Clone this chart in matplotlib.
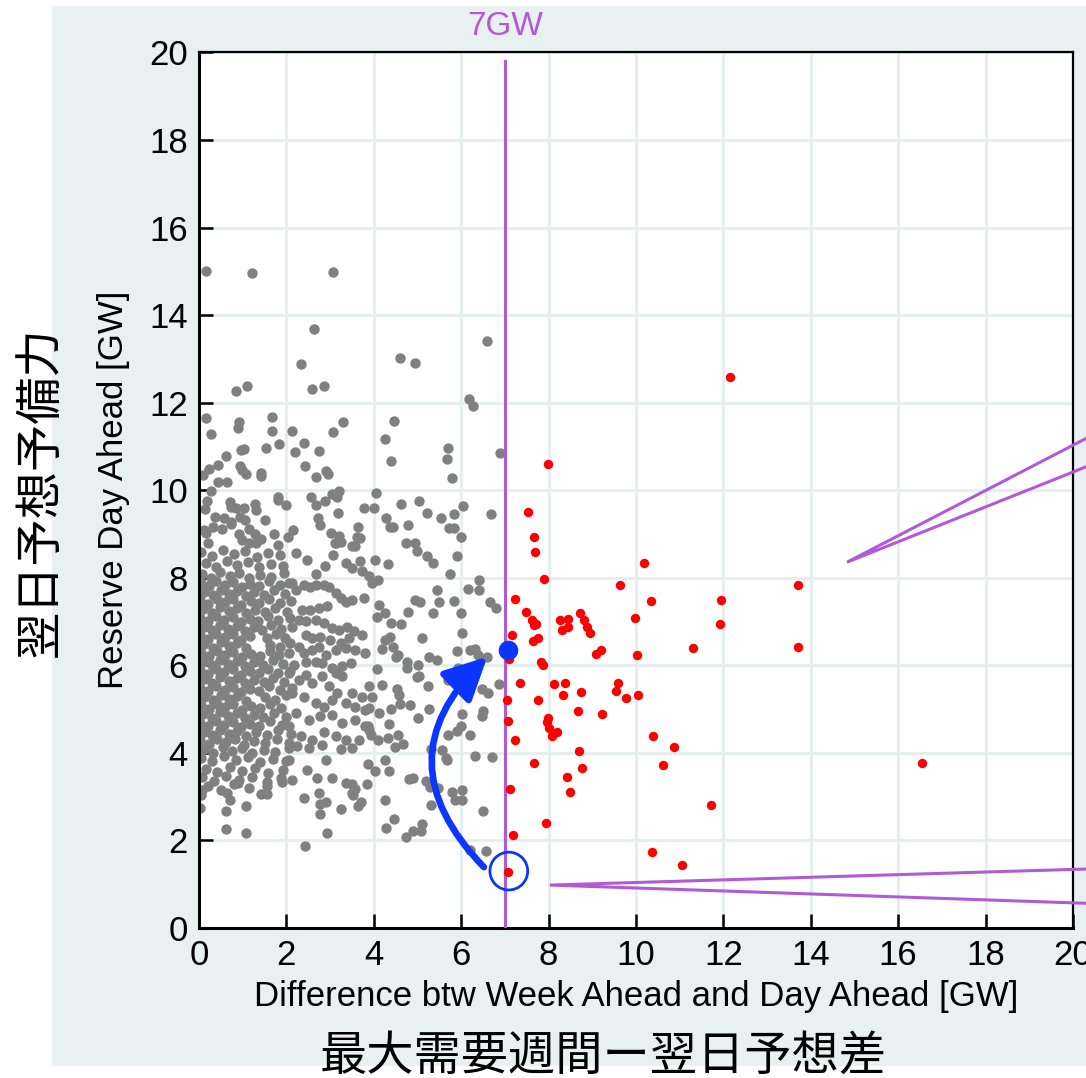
import matplotlib
matplotlib.use("Agg")
import matplotlib.pyplot as plt
import numpy as np
from matplotlib.patches import Rectangle, FancyArrowPatch

plt.rcParams['font.family'] = ['Liberation Sans', 'Noto Sans CJK JP', 'DejaVu Sans']

# ---- data (GW) ----
# sparse grey points above the main cloud
gray_upper = [
    (0.15, 15.0), (1.21, 14.95), (3.07, 14.99), (2.64, 13.69), (6.59, 13.40), (2.33, 12.87),
    (4.59, 13.02), (4.94, 12.91), (0.84, 12.26), (1.09, 12.38), (2.59, 12.30), (2.87, 12.37),
    (6.17, 12.07), (6.27, 11.92), (0.17, 11.64), (0.92, 11.55), (0.89, 11.41), (1.67, 11.66),
    (1.68, 11.35), (0.27, 11.27), (2.14, 11.35), (3.07, 11.32), (3.30, 11.55), (4.47, 11.58),
    (4.25, 11.17), (4.40, 10.66), (5.71, 10.97), (5.67, 10.70), (5.80, 10.27), (6.90, 10.84),
    (1.54, 10.97), (1.84, 11.06), (0.96, 10.91), (1.03, 10.94), (0.63, 10.78), (0.44, 10.57),
    (0.24, 10.47), (0.10, 10.34), (0.95, 10.55), (0.99, 10.46), (1.08, 10.37), (0.43, 10.18),
    (0.64, 10.18), (1.41, 10.40), (1.43, 10.33), (2.19, 10.86), (2.40, 11.07), (2.75, 10.89),
    (2.43, 10.55), (2.68, 10.30), (2.91, 10.43), (2.96, 10.36),
    (0.28, 9.98), (0.19, 9.75), (0.13, 9.56), (0.70, 9.72), (0.74, 9.62), (0.84, 9.58),
    (1.03, 9.60), (1.28, 9.69), (1.30, 9.54), (1.80, 9.83), (1.81, 9.77), (2.00, 9.66),
    (1.51, 9.31), (0.36, 9.39), (0.57, 9.37), (0.32, 9.16), (0.53, 9.10), (0.94, 9.39),
    (1.05, 9.32), (0.73, 9.28), (0.73, 9.22), (1.14, 9.12), (0.92, 8.99), (0.99, 8.86),
    (1.28, 8.99), (1.41, 8.89), (1.14, 8.78), (1.30, 8.78), (0.11, 9.09), (0.15, 9.01),
    (0.21, 8.78), (1.72, 8.99), (1.81, 8.74), (2.04, 8.93), (2.16, 9.09), (2.57, 9.83),
    (2.68, 9.66), (2.89, 9.74), (3.04, 9.90), (3.17, 9.85), (3.20, 9.98), (2.72, 9.37),
    (2.77, 9.19), (3.18, 9.47), (3.02, 9.01), (3.20, 8.95), (3.24, 8.81), (3.11, 8.78),
    (3.65, 9.16), (3.61, 8.93), (3.68, 8.90), (3.51, 8.73), (3.78, 9.60), (4.01, 9.60),
    (4.06, 9.94), (4.29, 9.37), (4.38, 9.15), (4.44, 9.15), (4.63, 9.69), (4.79, 9.21),
    (4.74, 8.79), (4.94, 8.78), (5.03, 9.76), (5.22, 9.47), (5.53, 9.35), (5.84, 9.45),
    (6.05, 9.63), (5.72, 9.13), (5.84, 9.13), (5.99, 8.93), (6.69, 9.45),
]

# dense core of the cloud (x < ~2.2)
gray_core = [
    (0.05, 8.58), (0.30, 8.50), (0.55, 8.62), (0.80, 8.53), (1.05, 8.60), (1.32, 8.48), (1.58, 8.56), (1.86, 8.51),
    (0.15, 8.33), (0.40, 8.25), (0.64, 8.37), (0.88, 8.28), (1.12, 8.35), (1.38, 8.23), (1.64, 8.31), (1.92, 8.26),
    (0.06, 8.08), (0.27, 8.00), (0.48, 8.12), (0.70, 8.03), (0.92, 8.10), (1.15, 7.98), (1.40, 8.06), (1.66, 8.01), (1.95, 8.11),
    (0.04, 7.88), (0.22, 7.80), (0.40, 7.92), (0.60, 7.83), (0.78, 7.90), (0.98, 7.78), (1.17, 7.86), (1.38, 7.81), (1.60, 7.91), (1.85, 7.82), (2.12, 7.87),
    (0.12, 7.68), (0.31, 7.60), (0.50, 7.72), (0.69, 7.63), (0.88, 7.70), (1.07, 7.58), (1.27, 7.66), (1.48, 7.61), (1.72, 7.71), (1.98, 7.62),
    (0.03, 7.48), (0.21, 7.40), (0.41, 7.52), (0.59, 7.43), (0.79, 7.50), (0.97, 7.38), (1.18, 7.46), (1.38, 7.41), (1.60, 7.51), (1.85, 7.42), (2.10, 7.47),
    (0.10, 7.28), (0.30, 7.20), (0.48, 7.32), (0.68, 7.23), (0.87, 7.30), (1.08, 7.18), (1.28, 7.26), (1.50, 7.21), (1.75, 7.31), (2.02, 7.22),
    (0.02, 7.08), (0.20, 7.00), (0.40, 7.12), (0.58, 7.03), (0.77, 7.10), (0.96, 6.98), (1.16, 7.06), (1.36, 7.01), (1.58, 7.11), (1.82, 7.02), (2.08, 7.07),
    (0.11, 6.88), (0.29, 6.80), (0.49, 6.92), (0.67, 6.83), (0.86, 6.90), (1.05, 6.78), (1.25, 6.86), (1.45, 6.81), (1.66, 6.91), (1.88, 6.82), (2.12, 6.87),
    (0.03, 6.68), (0.21, 6.60), (0.40, 6.72), (0.60, 6.63), (0.78, 6.70), (0.97, 6.58), (1.17, 6.66), (1.56, 6.61), (1.77, 6.71), (1.98, 6.62),
    (0.12, 6.48), (0.31, 6.40), (0.50, 6.52), (0.69, 6.43), (0.88, 6.50), (1.07, 6.38), (1.62, 6.46), (1.85, 6.41), (2.08, 6.51),
    (0.04, 6.28), (0.22, 6.20), (0.41, 6.32), (0.60, 6.23), (0.79, 6.30), (0.98, 6.18), (1.18, 6.26), (1.40, 6.21), (1.62, 6.31), (1.84, 6.22), (2.05, 6.27),
    (0.10, 6.08), (0.29, 6.00), (0.48, 6.12), (0.67, 6.03), (0.86, 6.10), (1.06, 5.98), (1.26, 6.06), (1.47, 6.01), (1.70, 6.11), (1.93, 6.02),
    (0.02, 5.88), (0.20, 5.80), (0.39, 5.92), (0.58, 5.83), (0.77, 5.90), (0.96, 5.78), (1.16, 5.86), (1.37, 5.81), (1.58, 5.91), (1.82, 5.82), (2.08, 5.87),
    (0.11, 5.68), (0.30, 5.60), (0.49, 5.72), (0.68, 5.63), (0.87, 5.70), (1.06, 5.58), (1.26, 5.66), (1.48, 5.61), (1.70, 5.71), (1.95, 5.62),
    (0.03, 5.48), (0.21, 5.40), (0.40, 5.52), (0.59, 5.43), (0.78, 5.50), (0.97, 5.38), (1.17, 5.46), (1.38, 5.41), (1.60, 5.51), (1.85, 5.42), (2.12, 5.47),
    (0.12, 5.28), (0.31, 5.20), (0.50, 5.32), (0.69, 5.23), (0.88, 5.30), (1.07, 5.18), (1.50, 5.26), (1.73, 5.21), (2.00, 5.31),
    (0.04, 5.08), (0.22, 5.00), (0.41, 5.12), (0.60, 5.03), (0.79, 5.10), (0.98, 4.98), (1.18, 5.06), (1.40, 5.01), (1.62, 5.11), (1.87, 5.02),
    (0.10, 4.88), (0.29, 4.80), (0.48, 4.92), (0.67, 4.83), (0.86, 4.90), (1.05, 4.78), (1.25, 4.86), (1.47, 4.81), (1.72, 4.91), (2.00, 4.82),
    (0.02, 4.68), (0.20, 4.60), (0.39, 4.72), (0.58, 4.63), (0.77, 4.70), (0.96, 4.58), (1.16, 4.66), (1.38, 4.61), (1.62, 4.71), (1.90, 4.62),
    (0.11, 4.48), (0.30, 4.40), (0.49, 4.52), (0.68, 4.43), (0.88, 4.50), (1.08, 4.38), (1.30, 4.46), (1.55, 4.41), (1.82, 4.51), (2.10, 4.42),
    (0.03, 4.28), (0.22, 4.20), (0.42, 4.32), (0.62, 4.23), (0.82, 4.30), (1.03, 4.18), (1.25, 4.26), (1.50, 4.21), (1.78, 4.31), (2.05, 4.22),
    (0.12, 4.08), (0.33, 4.00), (0.55, 4.12), (0.76, 4.03), (0.98, 4.10), (1.22, 3.98), (1.48, 4.06), (1.75, 4.01), (2.05, 4.11),
    (0.05, 3.88), (0.30, 3.80), (0.58, 3.92), (0.85, 3.83), (1.12, 3.90), (1.40, 3.78), (1.70, 3.86), (2.00, 3.81),
    (0.15, 3.63), (0.42, 3.55), (0.70, 3.67), (0.98, 3.58), (1.28, 3.65), (1.58, 3.53), (1.92, 3.61),
    (0.06, 3.43), (0.35, 3.35), (0.62, 3.47), (0.92, 3.38), (1.22, 3.45), (1.55, 3.33), (1.88, 3.41),
    (0.20, 3.23), (0.50, 3.15), (0.80, 3.27), (1.15, 3.18),
]

# medium-density band (x ~2.2 - 3.9)
gray_mid = [
    (2.23, 8.57), (2.48, 8.40), (2.67, 8.08), (2.88, 8.27), (3.07, 8.52), (3.13, 8.80), (3.36, 8.34),
    (3.51, 8.21), (3.57, 8.71), (3.68, 8.38), (3.74, 8.16),
    (2.06, 7.87), (2.21, 7.72), (2.40, 7.83), (2.55, 7.79), (2.67, 7.83), (2.86, 7.83), (2.97, 7.79),
    (3.13, 7.64), (3.24, 7.53), (3.36, 7.45), (3.51, 7.49), (3.78, 7.53), (2.36, 7.26), (2.55, 7.26),
    (2.75, 7.30), (2.94, 7.34), (2.29, 7.03), (2.44, 7.00), (2.67, 7.03), (2.86, 6.96), (3.05, 6.84),
    (3.20, 6.81), (3.39, 6.88), (3.43, 6.61), (3.55, 6.77), (3.74, 6.69), (2.44, 6.69), (2.59, 6.61),
    (2.78, 6.65), (3.01, 6.58), (3.24, 6.50), (2.29, 6.42), (2.40, 6.27), (2.59, 6.35), (2.75, 6.42),
    (2.90, 6.23), (3.13, 6.35), (3.36, 6.39), (3.58, 6.35), (3.81, 6.27), (2.17, 6.01), (2.44, 6.08),
    (2.67, 6.08), (2.82, 6.04), (3.05, 5.93), (3.28, 5.97), (3.47, 6.04),
    (2.06, 5.82), (2.29, 5.66), (2.44, 5.78), (2.59, 5.59), (2.82, 5.74), (3.13, 5.82), (3.28, 5.74),
    (2.97, 5.51), (3.16, 5.36), (3.51, 5.36), (3.74, 5.28), (2.14, 5.36), (2.40, 5.28), (2.67, 5.13),
    (2.86, 5.05), (3.05, 5.21), (3.36, 5.13), (3.58, 5.05), (3.81, 4.98), (2.21, 4.90), (2.52, 4.75),
    (2.78, 4.83), (3.05, 4.86), (3.28, 4.67), (3.58, 4.75), (3.81, 4.60), (2.06, 4.60), (2.33, 4.37),
    (2.59, 4.29), (2.86, 4.48), (3.13, 4.37), (3.36, 4.29), (3.66, 4.29), (3.89, 4.52), (2.25, 4.14),
    (2.52, 4.10), (2.82, 4.18), (3.24, 4.07), (3.51, 4.10),
    (2.06, 3.84), (2.48, 3.61), (2.71, 3.42), (2.90, 3.84), (3.05, 3.42), (3.51, 3.08), (2.75, 3.08),
]

# sparse grey points right of x ~3.8, below y ~9
gray_right = [
    (4.98, 8.61), (5.22, 8.50), (5.36, 8.33), (5.91, 8.50), (4.32, 8.30), (4.02, 8.39), (3.95, 7.87),
    (4.10, 7.95), (3.89, 8.04), (5.75, 8.07), (6.40, 7.95), (6.16, 7.74), (6.41, 7.71), (5.44, 7.72),
    (4.94, 7.49), (5.06, 7.45), (5.49, 7.43), (5.84, 7.46), (6.67, 7.43), (6.79, 7.30), (4.12, 7.37),
    (4.25, 7.18), (4.07, 7.09), (4.39, 6.96), (4.63, 6.94), (4.78, 7.22), (5.35, 7.19), (5.99, 7.19),
    (6.03, 6.74), (5.11, 6.61), (4.25, 6.58), (4.37, 6.65), (4.19, 6.37), (4.45, 6.42), (4.56, 6.23),
    (4.50, 6.18), (4.77, 6.06), (5.26, 6.18), (5.45, 6.12), (5.91, 6.32), (6.20, 6.35), (6.32, 6.36),
    (6.38, 6.22), (6.59, 6.19), (4.75, 5.94), (5.02, 6.00), (5.03, 5.75), (5.00, 5.72), (5.24, 5.53),
    (5.93, 5.93), (5.70, 5.66), (6.12, 5.59), (6.48, 5.45), (6.62, 5.37), (6.87, 5.57), (4.08, 5.91),
    (4.20, 5.54), (4.54, 5.45), (4.58, 5.31), (4.60, 5.11), (4.39, 4.99), (4.13, 4.90), (3.89, 5.01),
    (3.95, 5.28), (3.89, 5.51), (4.84, 5.09), (5.02, 4.78), (5.26, 4.99), (6.03, 4.89), (6.51, 4.96),
    (6.48, 4.84), (5.99, 4.60), (5.90, 4.50), (5.70, 4.41), (6.20, 4.39), (4.36, 4.66), (3.87, 4.60),
    (3.93, 4.41), (4.10, 4.29), (4.33, 4.33), (4.55, 4.41), (4.68, 4.20), (4.48, 4.13), (5.32, 4.08),
    (5.57, 4.06), (5.65, 3.87), (5.68, 3.82), (6.31, 3.91), (6.71, 3.89), (4.26, 3.82), (4.35, 3.57),
    (3.87, 3.74), (4.03, 3.57), (4.81, 3.40), (4.90, 3.42), (5.19, 3.36), (5.28, 3.22), (5.48, 3.19),
    (5.80, 3.10), (6.03, 3.15), (5.30, 2.79), (5.85, 2.91), (6.01, 2.92), (6.51, 2.67), (4.26, 2.92),
    (4.46, 2.48), (4.27, 2.28), (4.90, 2.20), (5.11, 2.37), (5.09, 2.21), (4.74, 2.07), (6.20, 1.78),
    (6.57, 1.76),
]

# sparse grey points at the bottom left
gray_low = [
    (2.43, 1.87), (2.93, 2.16), (3.26, 2.72), (2.78, 2.60), (2.77, 2.82), (2.91, 2.86), (3.65, 2.77),
    (3.71, 2.86), (3.53, 3.04), (2.40, 2.97), (1.56, 3.06), (1.41, 3.06), (1.56, 3.23), (1.08, 2.77),
    (0.62, 2.66), (0.71, 2.92), (0.65, 3.07), (0.62, 2.26), (1.08, 2.16), (0.02, 2.73), (0.04, 3.04),
    (0.08, 3.15), (3.36, 3.30), (3.51, 3.29), (3.56, 3.17), (3.85, 3.29), (1.91, 3.33), (2.14, 3.38),
    (0.90, 3.30),
]

# red points: difference above 7 GW
red_pts = [
    (12.16, 12.58), (7.99, 10.59), (7.54, 9.50), (7.67, 8.93), (7.70, 8.59), (10.18, 8.33), (7.89, 7.96),
    (9.63, 7.82), (13.71, 7.84), (7.23, 7.51), (10.34, 7.46), (11.94, 7.49), (7.48, 7.21), (7.61, 7.03),
    (7.67, 6.91), (7.72, 6.93), (8.27, 7.03), (8.44, 7.05), (8.30, 6.80), (8.44, 6.88), (8.72, 7.18),
    (8.80, 7.03), (8.89, 6.86), (8.95, 6.73), (9.97, 7.08), (11.93, 6.93), (7.16, 6.69), (7.64, 6.55),
    (7.76, 6.61), (9.09, 6.25), (9.21, 6.35), (10.03, 6.22), (11.31, 6.40), (13.70, 6.42), (7.09, 6.14),
    (7.83, 6.08), (7.87, 6.00), (7.35, 5.58), (8.13, 5.56), (8.37, 5.60), (9.59, 5.59), (9.54, 5.40),
    (9.78, 5.24), (10.05, 5.32), (8.75, 5.39), (8.32, 5.31), (7.06, 5.20), (7.76, 5.19), (8.67, 4.96),
    (9.23, 4.89), (7.07, 4.73), (7.98, 4.79), (7.96, 4.69), (8.02, 4.57), (8.19, 4.47), (8.09, 4.38),
    (7.24, 4.28), (10.38, 4.38), (10.88, 4.13), (8.69, 4.04), (7.66, 3.76), (10.63, 3.71), (8.77, 3.64),
    (16.55, 3.76), (8.43, 3.43), (8.48, 3.10), (7.11, 3.17), (11.71, 2.81), (7.94, 2.39), (7.19, 2.12),
    (10.37, 1.73), (11.06, 1.44), (7.07, 1.28),
]

threshold_gw = 7.0
threshold_top = 19.8
highlight_pt = (7.08, 6.34)     # filled blue dot
circled_pt = (7.09, 1.29)       # open blue circle
arrow_from = (6.52, 1.38)
arrow_to = (6.60, 6.19)

# callout wedges: (end, apex, end)
callout_upper = [(20.4, 11.23), (14.83, 8.35), (20.4, 10.57)]
callout_lower = [(20.4, 1.34), (8.03, 0.97), (20.4, 0.55)]

xticks = np.arange(0, 21, 2)
yticks = np.arange(0, 21, 2)

purple = '#b25ad6'
blue = '#0a36ff'

# ---- figure ----
fig = plt.figure(figsize=(10.86, 10.78), dpi=100)
fig.patches.append(Rectangle((0.0479, 0.0111), 0.9521, 0.9833, transform=fig.transFigure,
                             facecolor='#e8f0f2', edgecolor='none', zorder=-1))
ax = fig.add_axes([0.1832, 0.1396, 0.8048, 0.8117])
ax.set_facecolor('white')

gray = np.array(gray_upper + gray_core + gray_mid + gray_right + gray_low)
red = np.array(red_pts)

ax.scatter(gray[:, 0], gray[:, 1], s=56, c='#808080', linewidths=0, zorder=2)
ax.scatter(red[:, 0], red[:, 1], s=46, c='#ff0000', linewidths=0, zorder=4)

ax.plot([threshold_gw, threshold_gw], [0, threshold_top], color=purple, lw=2.2, zorder=3)
ax.text(threshold_gw, 1.03, '7GW', transform=ax.get_xaxis_transform(), color=purple,
        fontsize=24, ha='center', va='center')

ax.scatter([highlight_pt[0]], [highlight_pt[1]], s=200, c=blue, linewidths=0, zorder=6)
ax.scatter([circled_pt[0]], [circled_pt[1]], s=740, facecolors='none', edgecolors=blue,
           linewidths=2.0, zorder=6)

arrow = FancyArrowPatch(arrow_from, arrow_to, connectionstyle='arc3,rad=-0.5',
                        arrowstyle='-|>,head_length=1.3,head_width=0.65', mutation_scale=20,
                        color=blue, lw=4.8, shrinkA=0, shrinkB=0, zorder=5)
ax.add_patch(arrow)

for wedge in (callout_upper, callout_lower):
    wx = [p[0] for p in wedge]
    wy = [p[1] for p in wedge]
    ax.plot(wx, wy, color=purple, lw=2.2, clip_on=False, zorder=7, solid_joinstyle='miter')

ax.set_xlim(0, 20)
ax.set_ylim(0, 20)
ax.set_xticks(xticks)
ax.set_yticks(yticks)
ax.grid(True, color='#e6eef0', linewidth=2.2)
ax.set_axisbelow(True)
ax.tick_params(direction='in', length=10, width=1.8, labelsize=25, pad=8, top=False, right=False)
for side in ['left', 'bottom']:
    ax.spines[side].set_linewidth(2.2)
for side in ['top', 'right']:
    ax.spines[side].set_linewidth(1.6)

ax.set_xlabel('Difference btw Week Ahead and Day Ahead [GW]', fontsize=25, labelpad=6)
ax.set_ylabel('Reserve Day Ahead [GW]', fontsize=25, labelpad=14)

fig.text(0.555, 0.019, '最大需要週間ー翌日予想差', fontsize=34, ha='center', va='center')
fig.text(0.0387, 0.5436, '翌日予想予備力', fontsize=34, ha='center', va='center', rotation=90)

fig.savefig('out.png', dpi=100)
